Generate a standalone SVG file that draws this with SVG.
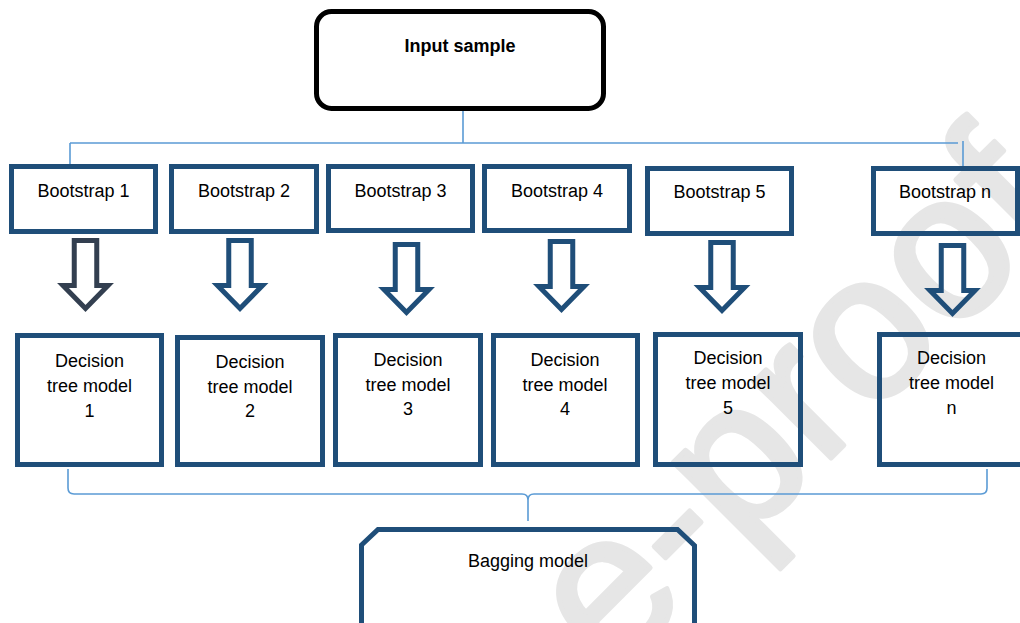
<svg xmlns="http://www.w3.org/2000/svg" xmlns:xlink="http://www.w3.org/1999/xlink" width="1020" height="623" viewBox="0 0 1020 623">
  <style>
    .box { fill: none; stroke: #1f4e79; stroke-width: 5; }
    .txt { font-family: "Liberation Sans", Arial, sans-serif; font-size: 18px; fill: #000; text-anchor: middle; }
    .bold { font-weight: bold; }
    .conn { fill: none; stroke: #5b9bd5; stroke-width: 1.6; }
    .arrow { fill: none; stroke: #1f4e79; stroke-width: 5; stroke-linejoin: miter; }
    .wm { font-family: "Liberation Sans", Arial, sans-serif; font-size: 205px; fill: #e6e6e6; stroke: #e6e6e6; stroke-width: 5; stroke-linejoin: round; }
  </style>
  <defs>
    <path id="blockArrow" d="M-11.25,2.5 H11.25 V47.5 H22.5 L0,70.5 L-22.5,47.5 H-11.25 Z"/>
  </defs>
  <rect x="0" y="0" width="1020" height="623" fill="#ffffff"/>

  <!-- watermark -->
  <text class="wm" transform="translate(611.5,677.5) rotate(-45)">e-proof</text>

  <!-- connectors -->
  <g id="connectors">
    <path class="conn" d="M463,111 V143 M70,143 H958 M70,143 V166 M963,141 V166"/>
    <path class="conn" d="M68,469 V488 Q68,494 74,494 H522 Q528,494 528,500 V521 M528,500 Q528,494 534,494 H981 Q987,494 987,488 V469"/>
    <use xlink:href="#blockArrow" class="arrow" style="stroke:#333f50" transform="translate(85.5,238)"/>
    <use xlink:href="#blockArrow" class="arrow" transform="translate(240,238)"/>
    <use xlink:href="#blockArrow" class="arrow" transform="translate(406.5,242)"/>
    <use xlink:href="#blockArrow" class="arrow" transform="translate(561.5,239)"/>
    <use xlink:href="#blockArrow" class="arrow" transform="translate(722,240)"/>
    <use xlink:href="#blockArrow" class="arrow" transform="translate(952.5,243)"/>
  </g>

  <g id="input-sample">
    <rect x="316.5" y="11.5" width="287" height="97" rx="15" fill="none" stroke="#000" stroke-width="5"/>
    <text class="txt bold" x="460" y="52">Input sample</text>
  </g>

  <g id="bootstrap-1">
    <rect class="box" x="11.5" y="166.5" width="144" height="65"/>
    <text class="txt" x="83.5" y="197">Bootstrap 1</text>
  </g>
  <g id="bootstrap-2">
    <rect class="box" x="171.5" y="166.5" width="145" height="65"/>
    <text class="txt" x="244" y="197">Bootstrap 2</text>
  </g>
  <g id="bootstrap-3">
    <rect class="box" x="328.5" y="166.5" width="144" height="64"/>
    <text class="txt" x="400.5" y="197">Bootstrap 3</text>
  </g>
  <g id="bootstrap-4">
    <rect class="box" x="484.5" y="166.5" width="145" height="64"/>
    <text class="txt" x="557" y="197">Bootstrap 4</text>
  </g>
  <g id="bootstrap-5">
    <rect class="box" x="647.5" y="168.5" width="144" height="65"/>
    <text class="txt" x="719.5" y="198">Bootstrap 5</text>
  </g>
  <g id="bootstrap-n">
    <rect class="box" x="873.5" y="168.5" width="144" height="65"/>
    <text class="txt" x="945" y="198">Bootstrap n</text>
  </g>

  <g id="tree-1">
    <rect class="box" x="17.5" y="335.5" width="144" height="129"/>
    <text class="txt" x="89.5" y="367">Decision</text>
    <text class="txt" x="89.5" y="392">tree model</text>
    <text class="txt" x="89.5" y="417">1</text>
  </g>
  <g id="tree-2">
    <rect class="box" x="177.5" y="337.5" width="145" height="127"/>
    <text class="txt" x="250" y="368">Decision</text>
    <text class="txt" x="250" y="393">tree model</text>
    <text class="txt" x="250" y="417">2</text>
  </g>
  <g id="tree-3">
    <rect class="box" x="335.5" y="335.5" width="145" height="129"/>
    <text class="txt" x="408" y="366">Decision</text>
    <text class="txt" x="408" y="391">tree model</text>
    <text class="txt" x="408" y="415">3</text>
  </g>
  <g id="tree-4">
    <rect class="box" x="493.5" y="335.5" width="144" height="129"/>
    <text class="txt" x="565" y="366">Decision</text>
    <text class="txt" x="565" y="391">tree model</text>
    <text class="txt" x="565" y="415">4</text>
  </g>
  <g id="tree-5">
    <rect class="box" x="655.5" y="334.5" width="145" height="130"/>
    <text class="txt" x="728" y="364">Decision</text>
    <text class="txt" x="728" y="389">tree model</text>
    <text class="txt" x="728" y="414">5</text>
  </g>
  <g id="tree-n">
    <rect class="box" x="879.5" y="334.5" width="150" height="130"/>
    <text class="txt" x="951.5" y="364">Decision</text>
    <text class="txt" x="951.5" y="389">tree model</text>
    <text class="txt" x="951.5" y="414">n</text>
  </g>

  <g id="bagging-model">
    <path class="box" d="M361.5,630 V545 L378,529.5 H677.5 L694.5,545.5 V630"/>
    <text class="txt" x="528" y="567">Bagging model</text>
  </g>
</svg>
